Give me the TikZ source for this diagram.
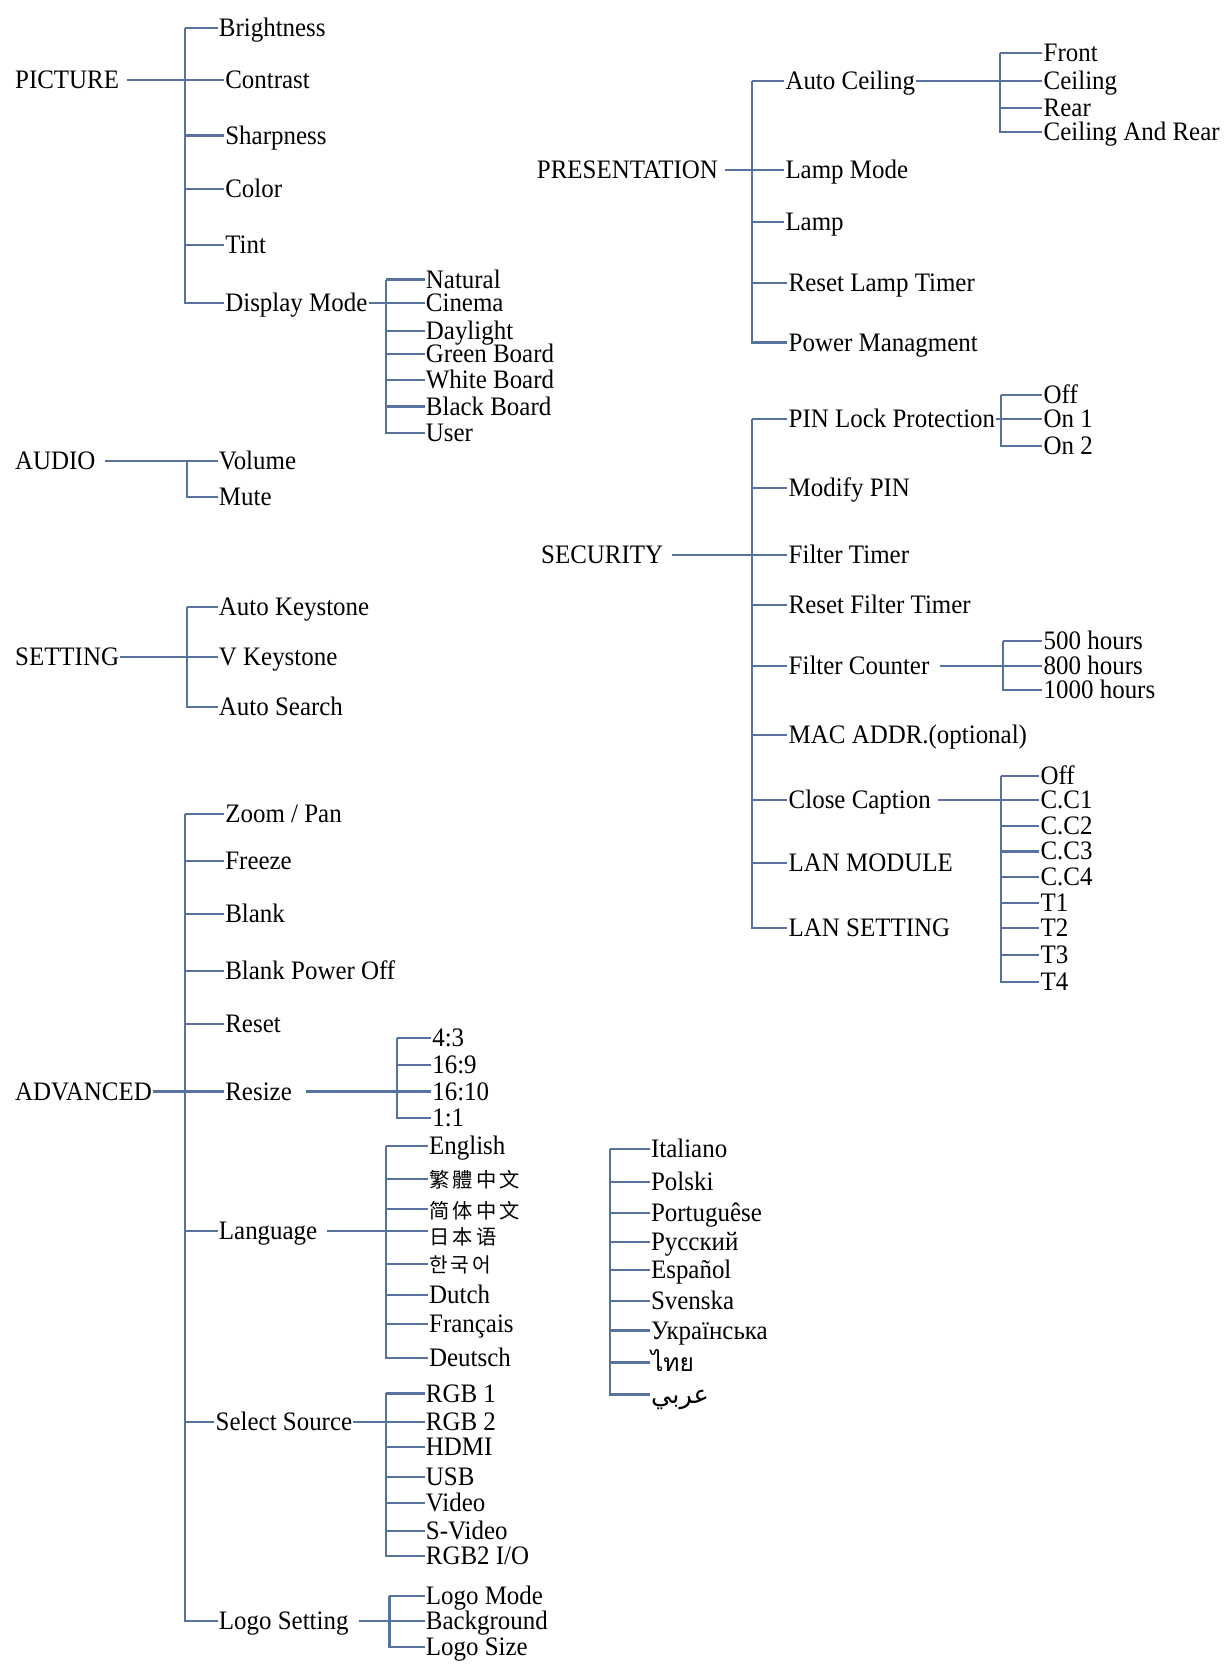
\documentclass[tikz,border=0pt]{standalone}
\usepackage{fontspec}
\setmainfont[FakeStretch=0.935]{Liberation Serif}
\newfontfamily\tcfont{Noto Sans CJK TC}
\newfontfamily\scfont{Noto Sans CJK SC}
\newfontfamily\krfont{Noto Sans CJK KR}
\newfontfamily\thaifont[Script=Thai]{Loma}
\newfontfamily\arabicfont[Script=Arabic]{DejaVu Sans}
\TeXXeTstate=1
\definecolor{ln}{RGB}{88,114,160}
\newcommand{\ck}{\kern3pt}
\begin{document}
\begin{tikzpicture}[x=1pt,y=-1pt,
  lbl/.style={anchor=west, inner xsep=1pt, inner ysep=0pt, text height=18pt, text depth=2pt,
    font=\fontsize{25}{26}\selectfont},
  cjk/.style={lbl, font=\fontsize{19}{20}\selectfont},
  conn/.style={draw=ln, line width=2pt},
]
\useasboundingbox (0,0) rectangle (1152,1568);

% ---------- PICTURE
\node[lbl] (pic) at (13,75) {PICTURE};
\node[lbl] (bright) at (204,26) {Brightness};
\node[lbl] (contrast) at (210,75) {Contrast};
\node[lbl] (sharp) at (210,127) {Sharpness};
\node[lbl] (color) at (210,177) {Color};
\node[lbl] (tint) at (210,230) {Tint};
\node[lbl] (dmode) at (210,284) {Display Mode};
\coordinate (tpic) at (173,26);
\draw[conn, shorten <=6pt] (pic.east) -- (contrast.west);
\foreach \c in {bright,contrast,sharp,color,tint,dmode} \draw[conn] (tpic) |- (\c.west);

\node[lbl] (natural) at (398,262) {Natural};
\node[lbl] (cinema) at (398,284) {Cinema};
\node[lbl] (daylight) at (398,310) {Daylight};
\node[lbl] (green) at (398,332) {Green Board};
\node[lbl] (white) at (398,356) {White Board};
\node[lbl] (black) at (398,381) {Black Board};
\node[lbl] (user) at (398,406) {User};
\coordinate (tdm) at (362,262);
\draw[conn] (dmode.east) -- (cinema.west);
\foreach \c in {natural,cinema,daylight,green,white,black,user} \draw[conn] (tdm) |- (\c.west);

% ---------- AUDIO
\node[lbl] (aud) at (13,432) {AUDIO};
\node[lbl] (volume) at (204,432) {Volume};
\node[lbl] (mute) at (204,466) {Mute};
\coordinate (taud) at (175,432);
\draw[conn, shorten <=8pt] (aud.east) -- (volume.west);
\foreach \c in {volume,mute} \draw[conn] (taud) |- (\c.west);

% ---------- SETTING
\node[lbl] (set) at (13,616) {SETTING};
\node[lbl] (akey) at (204,569) {Auto Keystone};
\node[lbl] (vkey) at (204,616) {V Keystone};
\node[lbl] (asearch) at (204,663) {Auto Search};
\coordinate (tset) at (175,569);
\draw[conn] (set.east) -- (vkey.west);
\foreach \c in {akey,vkey,asearch} \draw[conn] (tset) |- (\c.west);

% ---------- ADVANCED
\node[lbl] (adv) at (13,1023) {ADVANCED};
\node[lbl] (zoom) at (210,763) {Zoom / Pan};
\node[lbl] (freeze) at (210,807) {Freeze};
\node[lbl] (blank) at (210,857) {Blank};
\node[lbl] (bpo) at (210,910) {Blank Power Off};
\node[lbl] (reset) at (210,960) {Reset};
\node[lbl] (resize) at (210,1023) {Resize};
\node[lbl] (lang) at (204,1154) {Language};
\node[lbl] (selsrc) at (201,1333) {Select Source};
\node[lbl] (logo) at (204,1519) {Logo Setting};
\coordinate (tadv) at (173,763);
\draw[conn] (adv.east) -- (resize.west);
\foreach \c in {zoom,freeze,blank,bpo,reset,resize,lang,selsrc,logo} \draw[conn] (tadv) |- (\c.west);

\node[lbl] (r43) at (404,973) {4:3};
\node[lbl] (r169) at (404,998) {16:9};
\node[lbl] (r1610) at (404,1023) {16:10};
\node[lbl] (r11) at (404,1048) {1:1};
\coordinate (tres) at (372,973);
\draw[conn, shorten <=12pt] (resize.east) -- (r1610.west);
\foreach \c in {r43,r169,r1610,r11} \draw[conn] (tres) |- (\c.west);

\node[lbl] (en) at (401,1074) {English};
\node[cjk] (tc) at (401,1105) {\tcfont 繁\ck 體\ck 中\ck 文};
\node[cjk, text height=20pt] (sc) at (401,1133) {\scfont 简\ck 体\ck 中\ck 文};
\node[cjk, text height=27pt] (ja) at (401,1154) {\scfont 日\ck 本\ck 语};
\node[cjk, text height=18pt] (ko) at (401,1185) {\krfont 한\ck 국\ck 어};
\node[lbl] (nl) at (401,1214) {Dutch};
\node[lbl] (fr) at (401,1241) {Français};
\node[lbl] (de) at (401,1273) {Deutsch};
\coordinate (tlang) at (362,1074);
\draw[conn, shorten <=8pt] (lang.east) -- (ja.west);
\foreach \c in {en,tc,sc,ja,ko,nl,fr,de} \draw[conn] (tlang) |- (\c.west);

\node[lbl] (it) at (609,1077) {Italiano};
\node[lbl] (pl) at (609,1108) {Polski};
\node[lbl] (pt) at (609,1137) {Portuguêse};
\node[lbl] (ru) at (609,1164) {Русский};
\node[lbl] (es) at (609,1190) {Español};
\node[lbl] (sv) at (609,1219) {Svenska};
\node[lbl] (uk) at (609,1247) {Українська};
\node[lbl, font=\fontsize{23}{24}\selectfont\thaifont] (th) at (609,1277) {ไทย};
\node[lbl, font=\fontsize{24}{25}\selectfont\arabicfont] (ar) at (609,1307) {\beginR عربي\endR};
\coordinate (tlang2) at (572,1077);
\foreach \c in {it,pl,pt,ru,es,sv,uk,th,ar} \draw[conn] (tlang2) |- (\c.west);

\node[lbl] (rgb1) at (398,1306) {RGB 1};
\node[lbl] (rgb2) at (398,1333) {RGB 2};
\node[lbl] (hdmi) at (398,1356) {HDMI};
\node[lbl] (usb) at (398,1384) {USB};
\node[lbl] (video) at (398,1409) {Video};
\node[lbl] (svideo) at (398,1435) {S-Video};
\node[lbl] (rgbio) at (398,1458) {RGB2 I/O};
\coordinate (tsrc) at (362,1306);
\draw[conn] (selsrc.east) -- (rgb2.west);
\foreach \c in {rgb1,rgb2,hdmi,usb,video,svideo,rgbio} \draw[conn] (tsrc) |- (\c.west);

\node[lbl] (lmode) at (398,1496) {Logo Mode};
\node[lbl] (bg) at (398,1519) {Background};
\node[lbl] (lsize) at (398,1544) {Logo Size};
\coordinate (tlogo) at (365,1496);
\draw[conn, shorten <=9pt] (logo.east) -- (bg.west);
\foreach \c in {lmode,bg,lsize} \draw[conn] (tlogo) |- (\c.west);

% ---------- PRESENTATION
\node[lbl] (pres) at (502,159) {PRESENTATION};
\node[lbl] (ac) at (735,76) {Auto Ceiling};
\node[lbl] (lm) at (735,159) {Lamp Mode};
\node[lbl] (lamp) at (735,208) {Lamp};
\node[lbl] (rlt) at (738,265) {Reset Lamp Timer};
\node[lbl] (pm) at (738,321) {Power Managment};
\coordinate (tpres) at (705,76);
\draw[conn, shorten <=6pt] (pres.east) -- (lm.west);
\foreach \c in {ac,lm,lamp,rlt,pm} \draw[conn] (tpres) |- (\c.west);

\node[lbl] (front) at (977,50) {Front};
\node[lbl] (ceil) at (977,76) {Ceiling};
\node[lbl] (rear) at (977,101) {Rear};
\node[lbl] (car) at (977,124) {Ceiling And Rear};
\coordinate (tac) at (937,50);
\draw[conn] (ac.east) -- (ceil.west);
\foreach \c in {front,ceil,rear,car} \draw[conn] (tac) |- (\c.west);

% ---------- SECURITY
\node[lbl] (sec) at (506,520) {SECURITY};
\node[lbl] (pin) at (738,393) {PIN Lock Protection};
\node[lbl] (mpin) at (738,457) {Modify PIN};
\node[lbl] (ft) at (738,520) {Filter Timer};
\node[lbl] (rft) at (738,567) {Reset Filter Timer};
\node[lbl] (fc) at (738,624) {Filter Counter};
\node[lbl] (mac) at (738,689) {MAC ADDR.(optional)};
\node[lbl] (cc) at (738,750) {Close Caption};
\node[lbl] (lanm) at (738,809) {LAN MODULE};
\node[lbl] (lans) at (738,870) {LAN SETTING};
\coordinate (tsec) at (705,393);
\draw[conn, shorten <=7pt] (sec.east) -- (ft.west);
\foreach \c in {pin,mpin,ft,rft,fc,mac,cc,lanm,lans} \draw[conn] (tsec) |- (\c.west);

\node[lbl] (off1) at (977,370) {Off};
\node[lbl] (on1) at (977,393) {On 1};
\node[lbl] (on2) at (977,418) {On 2};
\coordinate (tpin) at (938,370);
\draw[conn] (pin.east) -- (on1.west);
\foreach \c in {off1,on1,on2} \draw[conn] (tpin) |- (\c.west);

\node[lbl] (h500) at (977,601) {500 hours};
\node[lbl] (h800) at (977,624) {800 hours};
\node[lbl] (h1000) at (977,647) {1000 hours};
\coordinate (tfc) at (940,601);
\draw[conn, shorten <=9pt] (fc.east) -- (h800.west);
\foreach \c in {h500,h800,h1000} \draw[conn] (tfc) |- (\c.west);

\node[lbl] (coff) at (974,727) {Off};
\node[lbl] (cc1) at (974,750) {C.C1};
\node[lbl] (cc2) at (974,774) {C.C2};
\node[lbl] (cc3) at (974,798) {C.C3};
\node[lbl] (cc4) at (974,822) {C.C4};
\node[lbl] (t1) at (974,846) {T1};
\node[lbl] (t2) at (974,870) {T2};
\node[lbl] (t3) at (974,895) {T3};
\node[lbl] (t4) at (974,920) {T4};
\coordinate (tcc) at (938,727);
\draw[conn, shorten <=6pt] (cc.east) -- (cc1.west);
\foreach \c in {coff,cc1,cc2,cc3,cc4,t1,t2,t3,t4} \draw[conn] (tcc) |- (\c.west);
\end{tikzpicture}
\end{document}
